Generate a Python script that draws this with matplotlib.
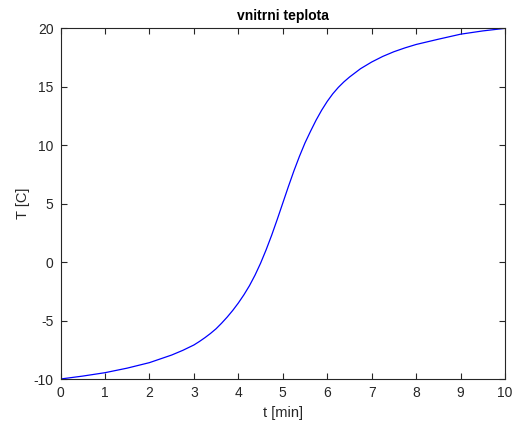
import matplotlib
matplotlib.use("Agg")
import matplotlib.pyplot as plt

t_min = [0, 0.5, 1, 1.5, 2, 2.5, 2.75, 3, 3.125, 3.25, 3.375, 3.5, 3.625, 3.75,
         3.875, 4, 4.125, 4.25, 4.375, 4.5, 4.625, 4.75, 4.875, 5,
         5.125, 5.25, 5.375, 5.5, 5.625, 5.75, 5.875, 6, 6.125, 6.25, 6.375,
         6.5, 6.75, 7, 7.25, 7.5, 7.75, 8, 8.5, 9, 9.5, 10]
T_c = [-10, -9.75, -9.46, -9.07, -8.6, -7.95, -7.55, -7.09, -6.79, -6.46, -6.1,
       -5.7, -5.22, -4.7, -4.13, -3.5, -2.8, -2.02, -1.12, -0.1, 1.05, 2.3,
       3.65, 5.05, 6.45, 7.8, 9.05, 10.2, 11.2, 12.15, 13.0, 13.75, 14.4, 14.95,
       15.42, 15.83, 16.55, 17.12, 17.6, 18.0, 18.33, 18.62, 19.07, 19.5, 19.78, 20]
x_ticks = list(range(0, 11))
y_ticks = [-10, -5, 0, 5, 10, 15, 20]

plt.rcParams['font.family'] = ['Liberation Sans', 'DejaVu Sans']
plt.rcParams['axes.unicode_minus'] = False

fig = plt.figure(figsize=(5.18, 4.23), dpi=100)
ax = fig.add_axes([0.1168, 0.104, 0.975 - 0.1168, 0.933 - 0.104])
ax.plot(t_min, T_c, color=(0, 0, 1), linewidth=0.9)
ax.set_xlim(0, 10)
ax.set_ylim(-10, 20)
ax.set_xticks(x_ticks)
ax.set_yticks(y_ticks)
ax.tick_params(direction='in', top=True, right=True, length=4, width=0.8,
               labelsize=10, colors='#262626', pad=5)
for s in ax.spines.values():
    s.set_color('#262626')
    s.set_linewidth(0.8)
ax.set_xlabel('t [min]', fontsize=10.5, color='#262626')
ax.set_ylabel('T [C]', fontsize=10.5, color='#262626')
ax.xaxis.set_label_coords(0.5, -0.077)
ax.yaxis.set_label_coords(-0.069, 0.5)
ax.set_title('vnitrni teplota', fontsize=10, fontweight='bold', pad=6)
fig.savefig('out.png', dpi=100)
